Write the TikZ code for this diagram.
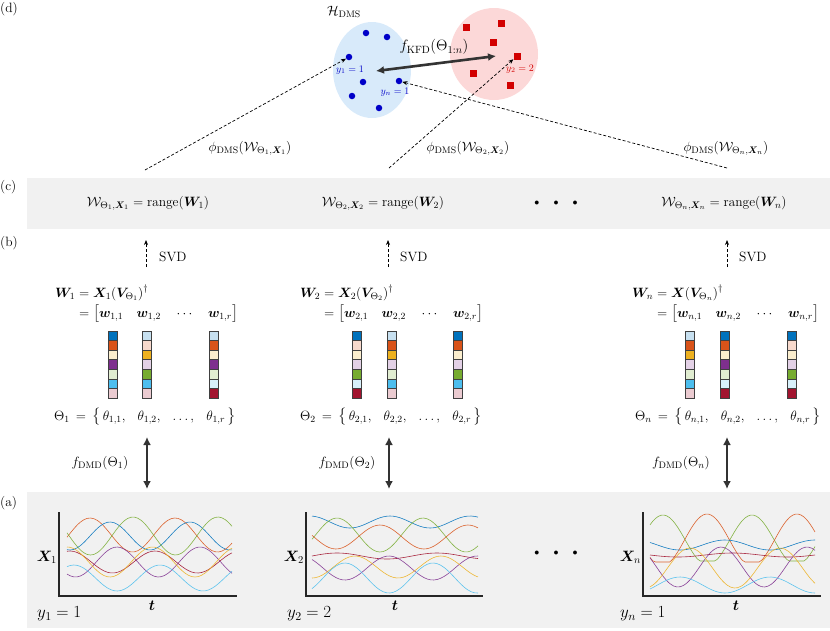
\RequirePackage{fix-cm}
\documentclass[tikz,border=0pt]{standalone}
\usepackage{amsmath,bm}
\usetikzlibrary{arrows.meta}

\definecolor{mblue}{RGB}{0,114,189}
\definecolor{morange}{RGB}{217,83,25}
\definecolor{myellow}{RGB}{237,177,32}
\definecolor{mpurple}{RGB}{126,47,142}
\definecolor{mgreen}{RGB}{119,172,48}
\definecolor{mcyan}{RGB}{77,190,238}
\definecolor{mred}{RGB}{162,20,47}
\definecolor{bandgray}{RGB}{241,241,241}
\definecolor{blobblue}{RGB}{216,234,250}
\definecolor{blobred}{RGB}{252,216,216}
\definecolor{dotblue}{RGB}{0,0,200}
\definecolor{sqred}{RGB}{210,0,0}

% one column w_{i,j}: x centre, seven flags (1 = full colour, 0 = tint)
\newcommand{\wvec}[2]{%
  \foreach \f [count=\i] in {#2} {
    \pgfmathsetmacro\cname{{"mblue","morange","myellow","mpurple","mgreen","mcyan","mred"}[\i-1]}
    \pgfmathtruncatemacro\tint{\f==1 ? 100 : 22}
    \draw[wcell,fill=\cname!\tint] ({#1-4.5},{331+(\i-1)*9.6}) rectangle ++(9,9.6);
  }%
}
\newcommand{\tsep}{\hspace{10pt}}

\begin{document}
\begin{tikzpicture}[x=1pt,y=-1pt,
  font=\fontsize{13.5}{16}\selectfont,
  every node/.style={inner sep=0pt},
  band/.style={fill=bandgray,draw=none},
  panel/.style={anchor=west},
  wcell/.style={draw=black!75,line width=0.7pt},
  flow/.style={dash pattern=on 3pt off 2pt,line width=0.7pt,-{Stealth[length=5pt,width=4pt]}},
  pair/.style={line width=2.6pt,black!80,{Latex[length=8pt,width=8pt]}-{Latex[length=8pt,width=8pt]}},
  sig/.style={line width=0.6pt,opacity=.9},
  axis/.style={line width=1.2pt,black!85},
  bdot/.style={circle,fill=dotblue,minimum size=6.5pt},
  rsq/.style={fill=sqred,minimum size=7pt},
  small/.style={font=\fontsize{10}{12}\selectfont},
]
\useasboundingbox (0,0) rectangle (830,630);

%% panel (d): the DMS feature space
\node[panel] (ld) at (0,9) {(d)};
\fill[blobblue] (372,70) ellipse (39 and 48);
\fill[blobred] (494,54) ellipse (44 and 46);
\node (hdms) at (344,12) {$\mathcal{H}_{\mathrm{DMS}}$};
% Node: blue points
\node[bdot] (b1) at (366,33) {};
\node[bdot] (b2) at (387,37) {};
\node[bdot] (b3) at (349,57) {};
\node[bdot] (b4) at (363,82) {};
\node[bdot] (b5) at (399,81) {};
\node[bdot] (b6) at (352,96) {};
\node[bdot] (b7) at (379,108) {};
% Node: red points
\node[rsq] (r1) at (466,27) {};
\node[rsq] (r2) at (501,23) {};
\node[rsq] (r3) at (493,42) {};
\node[rsq] (r4) at (517,56) {};
\node[rsq] (r5) at (473,73) {};
\node[rsq] (r6) at (510,85) {};
\node[small,dotblue] (ya) at (350,70) {$y_1 = 1$};
\node[small,dotblue] (yc) at (395,92) {$y_n = 1$};
\node[small,sqred] (yb) at (520,69) {$y_2 = 2$};
% Edge: kernel between the classes
\coordinate (kfdL) at (376,71);
\coordinate (kfdR) at (496,56);
\draw[pair] (kfdL) -- (kfdR);
\node (kfd) at (434,47) {\fontsize{15}{18}\selectfont$f_{\mathrm{KFD}}(\Theta_{1:n})$};

%% panel (c): subspaces
\node[panel] (lc) at (0,187) {(c)};
\fill[band] (27,178) rectangle (830,229);
\node (c1) at (148,203) {$\mathcal{W}_{\Theta_1,\boldsymbol{X}_1} = \mathrm{range}(\boldsymbol{W}_1)$};
\node (c2) at (383,203) {$\mathcal{W}_{\Theta_2,\boldsymbol{X}_2} = \mathrm{range}(\boldsymbol{W}_2)$};
\node (cdots) at (556,203) {\fontsize{10}{12}\selectfont$\bullet\hspace{12pt}\bullet\hspace{12pt}\bullet$};
\node (cn) at (724,203) {$\mathcal{W}_{\Theta_n,\boldsymbol{X}_n} = \mathrm{range}(\boldsymbol{W}_n)$};
% Edge: embeddings into H_DMS
\coordinate (e1) at (145,170);
\coordinate (e2) at (389,168);
\coordinate (e3) at (727,168);
\draw[flow] (e1) -- (b3);
\draw[flow] (e2) -- (r4);
\draw[flow] (e3) -- (b5);
\node (p1) at (250,148) {$\phi_{\mathrm{DMS}}(\mathcal{W}_{\Theta_1,\boldsymbol{X}_1})$};
\node (p2) at (468,148) {$\phi_{\mathrm{DMS}}(\mathcal{W}_{\Theta_2,\boldsymbol{X}_2})$};
\node (p3) at (726,148) {$\phi_{\mathrm{DMS}}(\mathcal{W}_{\Theta_n,\boldsymbol{X}_n})$};

%% panel (b): DMD modes
\node[panel] (lb) at (0,243) {(b)};
% Edge: SVD
\coordinate (s1) at (146,267); \coordinate (s2) at (388,267); \coordinate (s3) at (727,267);
\draw[flow] (s1) -- (146,240);
\draw[flow] (s2) -- (388,240);
\draw[flow] (s3) -- (727,240);
\node[panel] (svd1) at (159,257) {SVD};
\node[panel] (svd2) at (400,257) {SVD};
\node[panel] (svd3) at (739,257) {SVD};
% Node: W_1
\node[panel] (w1) at (55,304) {$\begin{aligned}\boldsymbol{W}_1 &= \boldsymbol{X}_1(\boldsymbol{V}_{\Theta_1})^{\dagger}\\[-1pt]
  &= \big[\boldsymbol{w}_{1,1}\quad \boldsymbol{w}_{1,2}\quad \cdots\quad \boldsymbol{w}_{1,r}\big]\end{aligned}$};
\wvec{113}{1,1,0,1,0,1,0}
\wvec{147}{0,0,1,0,1,1,0}
\wvec{214}{0,1,0,1,0,0,1}
\node[panel] (th1) at (54,417) {$\Theta_1 \,=\, \big\{\,\theta_{1,1},\tsep \theta_{1,2},\tsep \ldots,\tsep \theta_{1,r}\,\big\}$};
% Node: W_2
\node[panel] (w2) at (300,304) {$\begin{aligned}\boldsymbol{W}_2 &= \boldsymbol{X}_2(\boldsymbol{V}_{\Theta_2})^{\dagger}\\[-1pt]
  &= \big[\boldsymbol{w}_{2,1}\quad \boldsymbol{w}_{2,2}\quad \cdots\quad \boldsymbol{w}_{2,r}\big]\end{aligned}$};
\wvec{357}{1,0,0,0,1,0,1}
\wvec{392}{0,1,1,0,0,1,0}
\wvec{458}{1,1,0,0,1,1,0}
\node[panel] (th2) at (300,417) {$\Theta_2 \,=\, \big\{\,\theta_{2,1},\tsep \theta_{2,2},\tsep \ldots,\tsep \theta_{2,r}\,\big\}$};
% Node: W_n
\node[panel] (w3) at (632,304) {$\begin{aligned}\boldsymbol{W}_n &= \boldsymbol{X}(\boldsymbol{V}_{\Theta_n})^{\dagger}\\[-1pt]
  &= \big[\boldsymbol{w}_{n,1}\quad \boldsymbol{w}_{n,2}\quad \cdots\quad \boldsymbol{w}_{n,r}\big]\end{aligned}$};
\wvec{690}{0,1,1,0,0,1,0}
\wvec{725}{1,1,0,1,0,0,1}
\wvec{792}{1,0,0,0,1,0,1}
\node[panel] (th3) at (635,417) {$\Theta_n \,=\, \big\{\,\theta_{n,1},\tsep \theta_{n,2},\tsep \ldots,\tsep \theta_{n,r}\,\big\}$};
% Edge: DMD
\coordinate (d1a) at (147,437); \coordinate (d1b) at (147,489);
\coordinate (d2a) at (389,437); \coordinate (d2b) at (389,489);
\coordinate (d3a) at (727,437); \coordinate (d3b) at (727,489);
\draw[pair] (d1a) -- (d1b);
\draw[pair] (d2a) -- (d2b);
\draw[pair] (d3a) -- (d3b);
\node (f1) at (100,463) {$f_{\mathrm{DMD}}(\Theta_1)$};
\node (f2) at (347,463) {$f_{\mathrm{DMD}}(\Theta_2)$};
\node (f3) at (681,463) {$f_{\mathrm{DMD}}(\Theta_n)$};

%% panel (a): time series
\node[panel] (la) at (0,503) {(a)};
\fill[band] (27,492) rectangle (830,628);
\node (adots) at (556,553) {\fontsize{10}{12}\selectfont$\bullet\hspace{12pt}\bullet\hspace{12pt}\bullet$};
% series 1
\draw[sig,morange] plot[smooth,domain=67:232,samples=50] (\x,{535-17*cos((\x-90)/85*360)});
\draw[sig,mblue]   plot[smooth,domain=67:232,samples=50] (\x,{536-14*cos((\x-110)/80*360)});
\draw[sig,mgreen]  plot[smooth,domain=67:232,samples=50] (\x,{536-19*cos((\x-133)/85*360)});
\draw[sig,mred]    plot[smooth,domain=67:232,samples=50] (\x,{562-11*cos((\x-155)/85*360)});
\draw[sig,mpurple] plot[smooth,domain=67:232,samples=50] (\x,{562-15*cos((\x-117)/83*360)});
\draw[sig,myellow] plot[smooth,domain=67:232,samples=50] (\x,{562+15*cos((\x-110)/85*360)});
\draw[sig,mcyan]   plot[smooth,domain=67:232,samples=50] (\x,{578+13*cos((\x-117)/86*360)});
\draw[axis] (59,512) -- (59,596) -- (237,596);
\node[anchor=east] (x1) at (57,557) {\fontsize{15}{18}\selectfont$\boldsymbol{X}_1$};
\node (t1) at (152,606) {\fontsize{15}{18}\selectfont$\boldsymbol{t}$};
\node[panel] (y1) at (37,614) {\fontsize{17}{20}\selectfont$y_1 = 1$};
% series 2
\draw[sig,mblue]   plot[smooth,domain=312:478,samples=50] (\x,{522-6*cos((\x-390)/80*360)});
\draw[sig,mgreen]  plot[smooth,domain=312:478,samples=50] (\x,{535-17*cos((\x-337)/86*360)});
\draw[sig,morange] plot[smooth,domain=312:478,samples=50] (\x,{537-12*cos((\x-380)/88*360)});
\draw[sig,mred]    plot[smooth,domain=312:478,samples=50] (\x,{556-3*sin((\x-312)/100*360)});
\draw[sig,mpurple] plot[smooth,domain=312:478,samples=50] (\x,{568+12*cos((\x-345)/88*360)});
\draw[sig,myellow] plot[smooth,domain=312:478,samples=50] (\x,{567-11*cos((\x-355)/86*360)});
\draw[sig,mcyan]   plot[smooth,domain=312:478,samples=50] (\x,{578-15*cos((\x-345)/88*360)});
\draw[axis] (306,512) -- (306,596) -- (483,596);
\node[anchor=east] (x2) at (304,557) {\fontsize{15}{18}\selectfont$\boldsymbol{X}_2$};
\node (t2) at (395,606) {\fontsize{15}{18}\selectfont$\boldsymbol{t}$};
\node[panel] (y2) at (287,614) {\fontsize{17}{20}\selectfont$y_2 = 2$};
% series n
\draw[sig,mgreen]  plot[smooth,domain=650:815,samples=60] (\x,{min(540-25*cos((\x-663)/89*360),561)});
\draw[sig,morange] plot[smooth,domain=650:815,samples=60] (\x,{min(540-26*cos((\x-707)/90*360),562)});
\draw[sig,mblue]   plot[smooth,domain=650:815,samples=50] (\x,{545-5*cos((\x-725)/90*360)});
\draw[sig,mred]    plot[smooth,domain=650:815,samples=50] (\x,{555+2*sin((\x-650)/110*360)});
\draw[sig,mpurple] plot[smooth,domain=650:815,samples=50] (\x,{567+20*cos((\x-678)/86*360)});
\draw[sig,myellow] plot[smooth,domain=650:815,samples=50] (\x,{568-20*cos((\x-690)/90*360)});
\draw[sig,mcyan]   plot[smooth,domain=650:815,samples=50] (\x,{585-8*cos((\x-680)/90*360)});
\draw[axis] (643,512) -- (643,596) -- (821,596);
\node[anchor=east] (x3) at (641,557) {\fontsize{15}{18}\selectfont$\boldsymbol{X}_n$};
\node (t3) at (736,606) {\fontsize{15}{18}\selectfont$\boldsymbol{t}$};
\node[panel] (y3) at (620,614) {\fontsize{17}{20}\selectfont$y_n = 1$};
\end{tikzpicture}
\end{document}
